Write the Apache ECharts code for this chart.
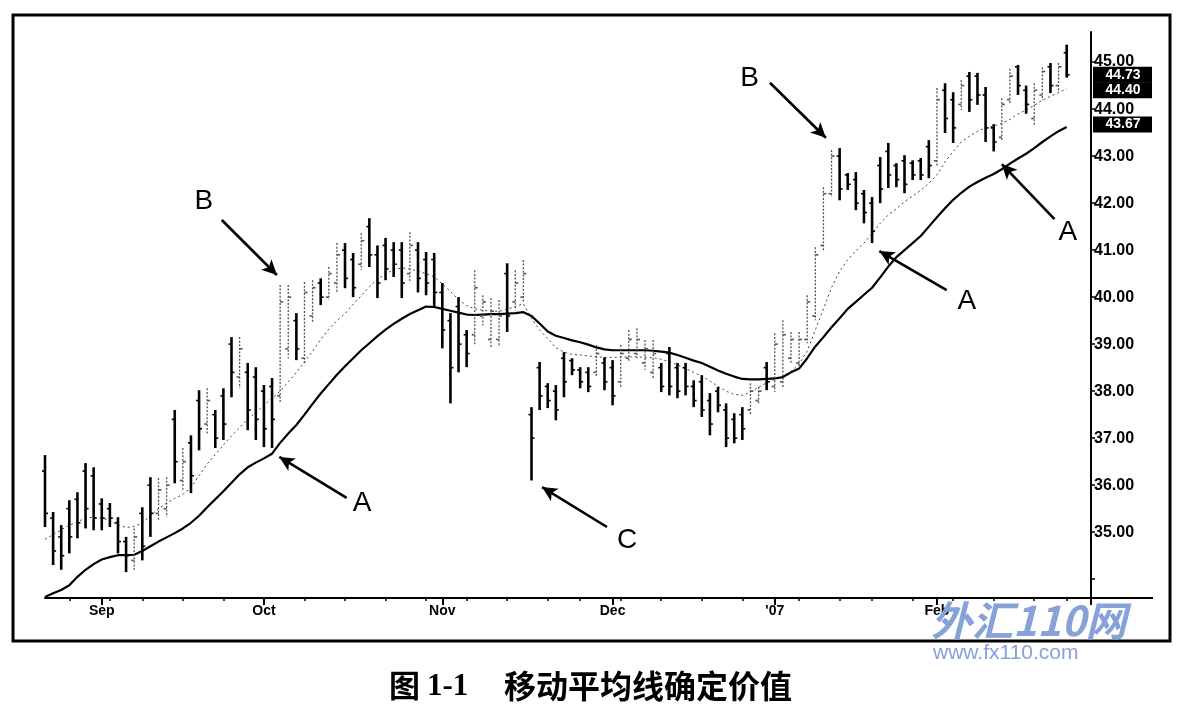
<!DOCTYPE html>
<html><head><meta charset="utf-8">
<script src="https://cdn.jsdelivr.net/npm/echarts@6/dist/echarts.min.js"></script>
<style>html,body{margin:0;padding:0;background:#fff}#c{width:1179px;height:716px}</style>
</head><body><div id="c"></div>
<script>
// ---- trading days (categories) ----
const dates = [
"2006-08-23","2006-08-24","2006-08-25","2006-08-28","2006-08-29","2006-08-30","2006-08-31",
"2006-09-01","2006-09-05","2006-09-06","2006-09-07","2006-09-08","2006-09-11","2006-09-12","2006-09-13","2006-09-14","2006-09-15","2006-09-18","2006-09-19","2006-09-20","2006-09-21","2006-09-22","2006-09-25","2006-09-26","2006-09-27","2006-09-28","2006-09-29",
"2006-10-02","2006-10-03","2006-10-04","2006-10-05","2006-10-06","2006-10-09","2006-10-10","2006-10-11","2006-10-12","2006-10-13","2006-10-16","2006-10-17","2006-10-18","2006-10-19","2006-10-20","2006-10-23","2006-10-24","2006-10-25","2006-10-26","2006-10-27","2006-10-30","2006-10-31",
"2006-11-01","2006-11-02","2006-11-03","2006-11-06","2006-11-07","2006-11-08","2006-11-09","2006-11-10","2006-11-13","2006-11-14","2006-11-15","2006-11-16","2006-11-17","2006-11-20","2006-11-21","2006-11-22","2006-11-24","2006-11-27","2006-11-28","2006-11-29","2006-11-30",
"2006-12-01","2006-12-04","2006-12-05","2006-12-06","2006-12-07","2006-12-08","2006-12-11","2006-12-12","2006-12-13","2006-12-14","2006-12-15","2006-12-18","2006-12-19","2006-12-20","2006-12-21","2006-12-22","2006-12-26","2006-12-27","2006-12-28","2006-12-29",
"2007-01-03","2007-01-04","2007-01-05","2007-01-08","2007-01-09","2007-01-10","2007-01-11","2007-01-12","2007-01-16","2007-01-17","2007-01-18","2007-01-19","2007-01-22","2007-01-23","2007-01-24","2007-01-25","2007-01-26","2007-01-29","2007-01-30","2007-01-31",
"2007-02-01","2007-02-02","2007-02-05","2007-02-06","2007-02-07","2007-02-08","2007-02-09","2007-02-12","2007-02-13","2007-02-14","2007-02-15","2007-02-16","2007-02-20","2007-02-21","2007-02-22","2007-02-23","2007-02-26"
];

// ---- OHLC values ----
const open = [36.3,35.3,34.9,35.5,35.7,36.3,36.2,35.6,35.5,35.2, 34.8,34.4,35.4,36.0,35.4,35.5,37.4,36.1,36.9,37.8, 37.3,37.5,37.9,39.0,38.3,38.4,38.3,38.0,38.1,37.9, 38.9,39.5,38.7,39.6,40.3,40.0,40.3,41.0,40.8,40.7, 41.5,40.9,41.1,41.0,41.0,40.5,41.0,40.8,40.8,40.1, 39.5,39.8,39.2,39.2,39.6,39.1,39.1,40.5,39.9,40.0, 37.5,38.5,38.1,38.0,38.7,38.65,38.45,38.4,38.4,38.6, 38.5,38.2,38.7,38.8,38.6,38.4,38.5,38.8,38.5,38.5, 38.1,38.2,37.8,38.0,37.6,37.4,37.5,37.6,37.8,38.5, 38.1,38.2,38.7,38.6,39.1,39.6,41.1,42.2,43.0,42.6, 42.5,42.2,42.0,42.8,43.1,42.8,42.9,42.85,42.9,43.2, 42.9,44.4,44.2,44.1,44.7,44.7,44.3,43.6,43.4,44.2, 44.9,44.4,43.8,44.3,44.9,44.5,45.2];
const high = [36.64,35.43,35.15,35.68,35.85,36.47,36.38,35.72,35.62,35.32, 34.9,35.08,35.53,36.17,36.15,36.17,37.6,36.79,37.06,38.02, 38.06,37.6,38.06,39.15,39.15,38.6,38.51,38.13,38.28,40.26, 40.26,39.66,40.32,40.36,40.4,40.64,41.15,41.15,40.94,41.36, 41.68,41.1,41.26,41.17,41.17,41.38,41.17,40.96,40.94,40.3, 39.66,40.0,39.3,40.57,40.04,39.98,39.94,40.72,40.57,40.79, 37.66,38.62,38.17,38.13,38.83,38.7,38.51,38.51,38.98,38.72, 38.66,38.98,39.3,39.34,39.09,39.09,38.6,38.94,38.6,38.6, 38.23,38.34,37.96,38.09,37.74,37.53,37.66,38.17,38.09,38.62, 39.23,39.51,39.26,39.26,40.04,41.06,42.34,43.13,43.17,42.64, 42.66,42.28,42.13,42.98,43.28,42.85,43.02,42.91,42.96,43.34, 44.45,44.55,44.36,44.62,44.79,44.77,44.47,43.68,44.23,44.86, 44.94,44.5,44.55,44.89,44.98,44.98,45.37];
const low = [35.11,34.3,34.2,34.55,34.87,35.08,35.04,35.04,35.11,34.55, 34.15,34.2,34.4,34.9,35.26,35.32,36.04,35.9,35.83,36.74, 37.1,36.79,36.96,37.87,38.06,37.17,36.96,36.81,36.79,37.74, 38.7,38.66,38.55,39.45,39.83,39.94,40.1,40.19,40.0,40.57, 40.64,39.98,40.36,40.43,39.98,40.3,40.1,40.04,39.79,38.91, 37.74,38.4,38.51,38.98,39.4,38.91,38.94,39.26,39.72,39.87, 36.1,37.6,37.64,37.38,37.87,38.34,38.06,37.98,38.3,38.02, 37.7,38.06,38.62,38.7,38.45,38.28,37.98,37.91,37.85,37.91, 37.66,37.45,37.06,37.55,36.81,36.89,36.96,37.49,37.74,38.02, 37.98,38.09,38.6,38.51,39.02,39.51,41.0,42.13,42.06,42.28, 41.85,41.57,41.15,42.0,42.32,42.34,42.21,42.49,42.49,42.53, 42.77,43.49,43.28,43.98,43.94,44.09,43.3,43.1,43.34,44.09, 44.3,43.9,43.66,44.19,44.34,44.36,44.67];
const close = [35.4,34.6,34.5,34.9,35.2,35.5,35.3,35.3,35.3,34.8, 34.5,34.9,34.7,35.4,35.9,36.0,36.5,36.5,36.2,37.2, 37.8,37.0,37.3,38.4,38.9,37.6,37.4,37.2,37.4,39.9, 40.0,38.9,40.1,40.2,40.0,40.5,40.9,40.4,40.2,41.2, 40.9,40.3,40.6,40.7,40.3,41.1,40.4,40.3,40.1,39.3, 38.5,39.0,38.8,40.2,39.9,39.7,39.6,39.6,40.3,40.5, 37.0,37.9,37.8,37.6,38.2,38.45,38.2,38.1,38.8,38.2, 37.9,38.8,39.1,39.1,38.9,38.8,38.1,38.1,38.0,38.1, 37.8,37.6,37.3,37.7,37.0,37.0,37.2,38.0,38.0,38.2, 39.0,39.2,39.1,39.1,39.9,40.9,42.2,43.0,42.3,42.4, 42.0,41.8,41.4,42.3,42.6,42.5,42.4,42.6,42.6,42.8, 44.2,43.8,43.6,44.5,44.2,44.3,43.6,43.3,44.1,44.7, 44.5,44.1,44.4,44.8,44.5,44.9,44.73];

// ---- moving averages ----
const maSlow = [33.62,33.7,33.77,33.87,34.05,34.2,34.32,34.42,34.47,34.51, 34.51,34.52,34.6,34.7,34.8,34.89,34.98,35.08,35.2,35.35, 35.53,35.7,35.87,36.05,36.23,36.38,36.48,36.57,36.67,36.9, 37.1,37.28,37.5,37.73,37.95,38.15,38.35,38.53,38.7,38.87, 39.02,39.17,39.31,39.43,39.54,39.64,39.72,39.8,39.79,39.75, 39.71,39.67,39.63,39.62,39.63,39.64,39.64,39.65,39.66,39.68, 39.6,39.44,39.27,39.18,39.13,39.08,39.04,38.99,38.93,38.89, 38.87,38.87,38.87,38.87,38.87,38.86,38.84,38.82,38.77,38.71, 38.65,38.6,38.52,38.44,38.37,38.31,38.26,38.25,38.25,38.26, 38.27,38.3,38.4,38.48,38.7,38.95,39.15,39.36,39.55,39.75, 39.9,40.05,40.2,40.42,40.65,40.85,41.0,41.15,41.3,41.5, 41.7,41.89,42.07,42.22,42.35,42.45,42.54,42.62,42.72,42.84, 42.95,43.05,43.17,43.3,43.42,43.53,43.62];
const maFast = [34.85,34.95,35.05,35.15,35.22,35.3,35.32,35.3,35.25,35.15, 35.1,35.12,35.2,35.35,35.5,35.62,35.72,35.8,35.95,36.2, 36.45,36.65,36.85,37.05,37.22,37.4,37.55,37.7,37.85,38.0, 38.2,38.4,38.62,38.85,39.1,39.32,39.5,39.65,39.85,40.03, 40.22,40.38,40.5,40.58,40.62,40.6,40.55,40.5,40.43,40.28, 40.12,39.95,39.82,39.75,39.72,39.7,39.7,39.74,39.8,39.86, 39.55,39.3,39.12,38.92,38.83,38.78,38.77,38.75,38.73,38.72, 38.72,38.72,38.73,38.73,38.72,38.71,38.68,38.62,38.56,38.48, 38.4,38.32,38.22,38.1,38.0,37.93,37.91,37.98,38.08,38.18, 38.25,38.32,38.42,38.58,38.85,39.3,39.75,40.2,40.55,40.8, 40.98,41.15,41.35,41.57,41.75,41.88,42.03,42.15,42.27,42.42, 42.6,42.88,43.1,43.3,43.42,43.53,43.6,43.64,43.7,43.78, 43.9,43.98,44.08,44.19,44.27,44.35,44.43];

// ---- axis ticks / labels ----
const monthLabels = ["Sep","Oct","Nov","Dec","'07","Feb"];
const yLabelValues = [35,36,37,38,39,40,41,42,43,44,45];
const yTickValues = [34,35,36,37,38,39,40,41,42,43,44,45];
const priceTags = [44.73, 44.40, 43.67];
const Y_MIN = 33.6, Y_MAX = 45.64, X_MAX = 129;

// ---- annotations (data coordinates: trading-day index, price) ----
const annoLetters = [["B",19.6,42.03],["A",39.1,35.62],["C",71.8,34.83],["B",86.9,44.66],["A",113.7,39.92],["A",126.15,41.39]];
const annoArrows = [[21.8,41.64,28.6,40.47],[37.2,35.73,28.9,36.6],[69.3,35.11,61.3,35.96],[89.4,44.56,96.3,43.39],[111.2,40.15,102.9,40.98],[124.5,41.66,118.0,42.83]];

// derived tick positions from the dates
const monthStartIdx = [];
const weekStartIdx = [];
let prevDow = 9;
dates.forEach((d, i) => {
  if (i > 0 && d.slice(5,7) !== dates[i-1].slice(5,7)) monthStartIdx.push(i);
  const dow = new Date(d + "T00:00:00Z").getUTCDay();
  if (dow < prevDow && i > 0) weekStartIdx.push(i);
  prevDow = dow;
});

const ohlc = dates.map((d, i) => [i, open[i], high[i], low[i], close[i]]);

function renderBar(params, api) {
  const i = api.value(0);
  const o = api.value(1), c = api.value(4);
  const ph = api.coord([i, api.value(2)]);
  const pl = api.coord([i, api.value(3)]);
  const po = api.coord([i, o]);
  const pc = api.coord([i, c]);
  const up = c >= o;
  const st = up ? {stroke:'#555', lineWidth:1.3, lineDash:[2,1.6]} : {stroke:'#000', lineWidth:2.6};
  const tk = {stroke: up ? '#555' : '#000', lineWidth: 1.6};
  return {type:'group', children:[
    {type:'line', shape:{x1:ph[0], y1:ph[1], x2:pl[0], y2:pl[1]}, style: st},
    {type:'line', shape:{x1:po[0]-3, y1:po[1], x2:po[0], y2:po[1]}, style: tk},
    {type:'line', shape:{x1:pc[0], y1:pc[1], x2:pc[0]+3, y2:pc[1]}, style: tk}
  ]};
}

const chart = echarts.init(document.getElementById('c'));
const FONT = "'Liberation Sans', Arial, sans-serif";
chart.setOption({
  animation: false,
  backgroundColor: '#fff',
  grid: {left: 45, right: 88, top: 32, bottom: 118, containLabel: false, outerBoundsMode: 'none'},
  xAxis: [{
    type: 'value', min: 0, max: X_MAX, position: 'bottom',
    axisLine: {show: true, onZero: false, lineStyle: {color: '#000', width: 2}},
    axisTick: {show: true, customValues: monthStartIdx, length: 7, inside: false, lineStyle: {color: '#000', width: 2}},
    axisLabel: {show: true, customValues: monthStartIdx, margin: 6, color: '#000', fontWeight: 'bold', fontSize: 14, fontFamily: FONT,
      formatter: v => monthLabels[monthStartIdx.indexOf(Math.round(v))] || ''},
    splitLine: {show: false}
  }, {
    type: 'value', min: 0, max: X_MAX, position: 'bottom', gridIndex: 0,
    axisLine: {show: false, onZero: false},
    axisTick: {show: true, customValues: weekStartIdx, length: 3, lineStyle: {color: '#000', width: 1.5}},
    axisLabel: {show: false}, splitLine: {show: false}
  }],
  yAxis: {
    type: 'value', position: 'right', min: Y_MIN, max: Y_MAX,
    axisLine: {show: true, onZero: false, lineStyle: {color: '#000', width: 2}},
    axisTick: {show: true, customValues: yTickValues, length: 4, lineStyle: {color: '#000', width: 1.5}},
    axisLabel: {show: true, customValues: yLabelValues, margin: 3, color: '#000', fontWeight: 'bold', fontSize: 16, fontFamily: FONT,
      formatter: v => Number(v).toFixed(2)},
    splitLine: {show: false}
  },
  series: [
    {type: 'line', name: 'slow', data: maSlow.map((v, i) => [i, v]), showSymbol: false, symbol: 'none',
     lineStyle: {color: '#000', width: 2.2}, z: 3,
     markLine: {silent: true, symbol: ['none', 'arrow'], symbolSize: [11, 15], label: {show: false},
       lineStyle: {color: '#000', width: 2.6, type: 'solid'},
       data: annoArrows.map(a => [{coord: [a[0], a[1]]}, {coord: [a[2], a[3]]}])},
     markPoint: {silent: true, symbol: 'circle', symbolSize: 1, itemStyle: {color: 'rgba(0,0,0,0)'},
       label: {show: true, position: 'inside', formatter: '{b}', fontSize: 28, color: '#000', fontFamily: FONT},
       data: annoLetters.map(a => ({name: a[0], coord: [a[1], a[2]]}))}
    },
    {type: 'line', name: 'fast', data: maFast.map((v, i) => [i, v]), showSymbol: false, symbol: 'none',
     lineStyle: {color: '#444', width: 1, type: [2, 3]}, z: 2},
    {type: 'custom', name: 'price', data: ohlc, renderItem: renderBar, encode: {x: 0, y: [1, 2, 3, 4]}, z: 4}
  ]
});

const corner = chart.convertToPixel({xAxisIndex: 0, yAxisIndex: 0}, [X_MAX, Y_MIN]);
const CJK = "'Noto Sans CJK SC', sans-serif";
const graphics = [
  {type: 'rect', shape: {x: 13, y: 15, width: 1157, height: 626}, style: {fill: 'none', stroke: '#000', lineWidth: 3}, z: 100},
  {type: 'line', shape: {x1: corner[0], y1: corner[1], x2: corner[0] + 62, y2: corner[1]}, style: {stroke: '#000', lineWidth: 2}, z: 100},
  {type: 'line', shape: {x1: corner[0], y1: corner[1], x2: corner[0], y2: corner[1] + 7}, style: {stroke: '#000', lineWidth: 2}, z: 100},
  {type: 'text', x: 931, y: 600, style: {text: '外汇110网', fill: '#86a2d8', font: "italic bold 41px " + CJK}, z: 100},
  {type: 'text', x: 933, y: 643, style: {text: 'www.fx110.com', fill: '#86a2d8', font: "21px 'Liberation Sans', Arial, sans-serif"}, z: 100},
  {type: 'text', x: 389, y: 670, style: {text: '图', fill: '#000', font: "bold 31px " + CJK}, z: 100},
  {type: 'text', x: 427, y: 671, style: {text: '1-1', fill: '#000', font: "bold 31px 'Liberation Serif', 'Times New Roman', serif"}, z: 100},
  {type: 'text', x: 504, y: 670, style: {text: '移动平均线确定价值', fill: '#000', font: "bold 32px " + CJK}, z: 100}
];
priceTags.forEach(v => {
  const p = chart.convertToPixel({xAxisIndex: 0, yAxisIndex: 0}, [X_MAX, v]);
  graphics.push({type: 'rect', shape: {x: p[0] + 2, y: p[1] - 8, width: 59, height: 16}, style: {fill: '#000'}, z: 110});
  graphics.push({type: 'text', x: p[0] + 32, y: p[1], style: {text: v.toFixed(2), fill: '#fff', font: "bold 14px 'Liberation Sans', Arial, sans-serif", align: 'center', verticalAlign: 'middle'}, z: 111});
});
chart.setOption({graphic: graphics});
</script>
</body></html>
